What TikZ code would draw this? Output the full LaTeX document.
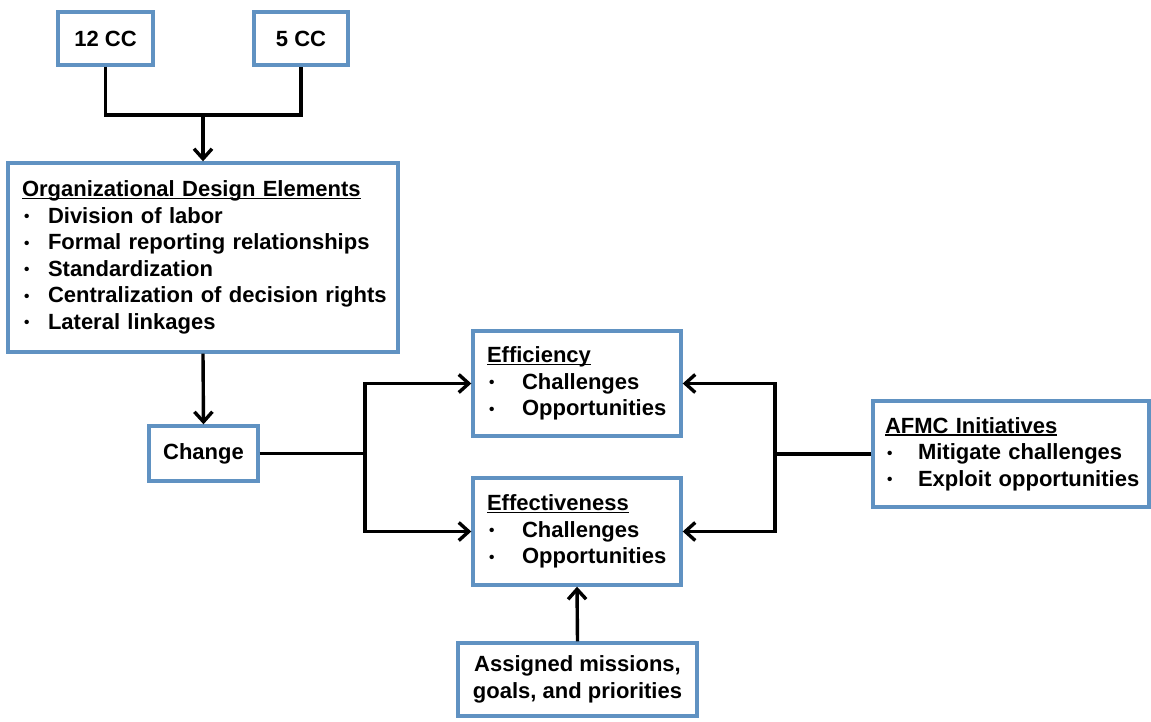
\documentclass[tikz,border=0pt]{standalone}
\usepackage{fontspec}
\setmainfont{Liberation Sans}
\usetikzlibrary{arrows.meta}
\definecolor{boxblue}{RGB}{96,146,194}
\newcommand{\hd}[1]{\setbox0\hbox{#1}\rlap{\rule[-2.5pt]{\wd0}{1.4pt}}\box0}
\newcommand{\bu}[2]{\mbox{\hspace*{2pt}\makebox[#1][l]{\raisebox{1.5pt}{\scalebox{0.7}{\textbullet}}}#2}}
\begin{document}
\begin{tikzpicture}[x=1pt,y=-1pt,
  font=\fontsize{22}{26.5}\selectfont\bfseries,
  box/.style={draw=boxblue, line width=3.4pt, rectangle, fill=white, inner ysep=0pt},
  lbox/.style={box, align=left, inner xsep=14pt},
  cbox/.style={box, align=center, inner xsep=0pt},
  conn/.style={line width=3.4pt, black},
  arr/.style={conn, -{Straight Barb[length=10pt,width=18pt]}}]
\useasboundingbox[fill=white] (0,0) rectangle (1151,721);

\node[cbox, minimum width=95pt, minimum height=53pt] (c12) at (105.5,38.5) {12 CC};
\node[cbox, minimum width=94pt, minimum height=53pt] (c5) at (301,38.5) {5 CC};

\node[lbox, text width=362pt, minimum height=189pt] (org) at (203,257.5)
  {\hd{Organizational Design Elements}\\
   \bu{24pt}{Division of labor}\\
   \bu{24pt}{Formal reporting relationships}\\
   \bu{24pt}{Standardization}\\
   \bu{24pt}{Centralization of decision rights}\\
   \bu{24pt}{Lateral linkages}};

\node[cbox, minimum width=109pt, minimum height=55pt] (change) at (203.5,453.5) {Change};

\node[lbox, text width=180pt, minimum height=105pt] (eff) at (577,383.5)
  {\hd{Efficiency}\\
   \bu{33pt}{Challenges}\\
   \bu{33pt}{Opportunities}};

\node[lbox, text width=180pt, minimum height=107pt] (effect) at (577,531.5)
  {\hd{Effectiveness}\\
   \bu{33pt}{Challenges}\\
   \bu{33pt}{Opportunities}};

\node[lbox, inner xsep=12pt, text width=252pt, minimum height=106pt] (afmc) at (1011,454)
  {\hd{AFMC Initiatives}\\
   \bu{31pt}{Mitigate challenges}\\
   \bu{31pt}{Exploit opportunities}};

\node[cbox, minimum width=239pt, minimum height=73pt] (assign) at (577.5,679.5)
  {Assigned missions,\\goals, and priorities};

\coordinate (j1) at (203,115);
\coordinate (jc) at (365,453.5);
\coordinate (ja) at (775,454);

\draw[conn] (c12.south) |- (j1) -| (c5.south);
\draw[arr] (j1) -- (org.north);
\draw[arr] (org.south) -- (change.north);
\draw[conn] (change.east) -- (jc);
\draw[arr] (jc) |- (eff.west);
\draw[arr] (jc) |- (effect.west);
\draw[conn] (afmc.west) -- (ja);
\draw[arr] (ja) |- (eff.east);
\draw[arr] (ja) |- (effect.east);
\draw[arr] (assign.north) -- (effect.south);
\end{tikzpicture}
\end{document}
